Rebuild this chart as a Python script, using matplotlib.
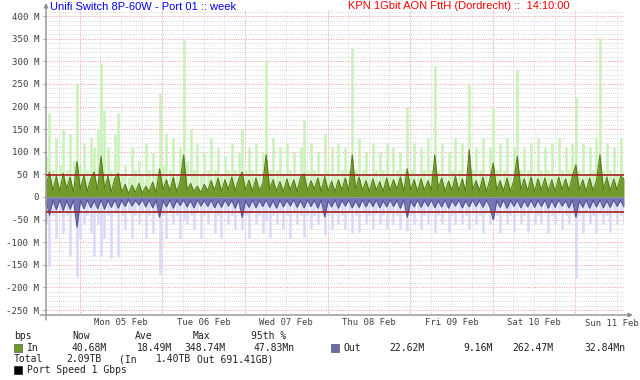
import matplotlib
matplotlib.use('Agg')
import numpy as np
import matplotlib.pyplot as plt
from matplotlib.ticker import MultipleLocator, FuncFormatter
from matplotlib.patches import Rectangle

# ---- data (Mbps, hourly samples from Sun 04 Feb 14:10) ----
in_avg = [22, 55, 14, 46, 12, 52, 18, 44, 10, 78, 16, 48,
          12, 40, 55, 15, 90, 18, 46, 11, 42, 52, 9, 28,
          7, 26, 10, 30, 8, 24, 11, 33, 9, 62, 16, 38,
          13, 44, 11, 34, 93, 15, 30, 12, 24, 9, 28, 13,
          36, 14, 42, 12, 38, 16, 44, 13, 40, 55, 15, 37,
          12, 42, 14, 30, 93, 16, 38, 13, 34, 11, 40, 15,
          38, 12, 44, 51, 14, 36, 17, 42, 12, 45, 13, 35,
          11, 38, 15, 42, 13, 93, 16, 44, 14, 36, 12, 40,
          15, 34, 12, 42, 14, 38, 17, 44, 13, 62, 15, 38,
          12, 40, 14, 36, 15, 93, 18, 42, 12, 35, 14, 46,
          13, 40, 12, 104, 15, 36, 14, 44, 11, 38, 75, 15,
          36, 13, 42, 12, 38, 90, 16, 40, 13, 44, 12, 40,
          15, 42, 13, 38, 12, 44, 16, 40, 14, 46, 71, 15,
          38, 12, 42, 14, 36, 93, 16, 44, 13, 40, 15, 46,
          40]
in_max = [90, 185, 60, 130, 70, 150, 60, 140, 80, 252, 70, 120,
          60, 130, 110, 150, 296, 192, 110, 60, 140, 185, 50, 70,
          45, 110, 60, 80, 50, 120, 60, 100, 55, 230, 70, 140,
          60, 130, 50, 110, 348, 80, 150, 60, 120, 50, 100, 60,
          130, 60, 110, 50, 90, 60, 120, 60, 100, 150, 60, 110,
          60, 120, 50, 100, 300, 60, 130, 60, 110, 50, 120, 60,
          100, 50, 110, 170, 60, 120, 60, 100, 50, 140, 60, 110,
          50, 120, 60, 110, 60, 330, 60, 130, 60, 100, 50, 120,
          60, 100, 60, 120, 50, 110, 60, 100, 60, 200, 60, 120,
          50, 110, 60, 130, 60, 290, 60, 120, 50, 100, 60, 130,
          60, 120, 50, 250, 60, 110, 60, 130, 50, 110, 200, 60,
          120, 60, 130, 50, 110, 280, 60, 110, 60, 120, 50, 130,
          60, 110, 60, 120, 50, 130, 60, 110, 60, 120, 220, 60,
          120, 50, 110, 60, 130, 351, 60, 120, 60, 110, 50, 130,
          60]
out_avg = [9, 40, 7, 28, 6, 30, 8, 27, 7, 67, 8, 26,
           6, 24, 8, 26, 6, 27, 7, 23, 6, 25, 7, 21,
           5, 20, 7, 18, 5, 22, 6, 24, 7, 45, 8, 22,
           6, 25, 7, 19, 6, 22, 8, 24, 6, 20, 7, 21,
           6, 24, 8, 23, 6, 20, 7, 25, 6, 45, 8, 23,
           6, 24, 7, 21, 6, 23, 8, 25, 6, 22, 7, 20,
           6, 23, 8, 24, 6, 21, 7, 25, 6, 44, 8, 22,
           6, 25, 7, 20, 6, 24, 8, 23, 6, 22, 7, 21,
           6, 24, 8, 22, 6, 21, 7, 25, 6, 45, 8, 22,
           6, 23, 7, 21, 6, 24, 8, 22, 6, 25, 7, 20,
           6, 24, 8, 22, 6, 21, 7, 23, 6, 22, 50, 8,
           23, 6, 25, 7, 21, 6, 24, 8, 22, 6, 23, 7,
           21, 6, 25, 7, 23, 6, 20, 8, 24, 6, 45, 8,
           23, 6, 25, 7, 22, 6, 24, 8, 23, 6, 21, 7,
           22]
out_max = [60, 155, 40, 90, 35, 80, 40, 130, 35, 177, 90, 60,
           40, 80, 130, 60, 130, 90, 40, 135, 35, 133, 40, 70,
           35, 90, 40, 60, 35, 90, 40, 80, 35, 172, 40, 90,
           35, 60, 40, 90, 50, 60, 40, 70, 35, 90, 40, 60,
           35, 80, 40, 90, 35, 60, 40, 70, 35, 70, 40, 90,
           35, 60, 40, 80, 50, 90, 40, 60, 35, 70, 40, 90,
           35, 60, 40, 88, 40, 70, 40, 60, 35, 84, 40, 70,
           35, 60, 40, 70, 35, 80, 40, 78, 35, 60, 40, 70,
           35, 60, 40, 70, 35, 60, 40, 70, 35, 75, 40, 60,
           35, 70, 40, 60, 35, 80, 40, 60, 35, 78, 40, 60,
           35, 60, 40, 70, 35, 60, 40, 80, 35, 60, 50, 40,
           80, 35, 60, 40, 78, 35, 60, 40, 78, 35, 60, 40,
           60, 35, 80, 40, 60, 35, 70, 40, 60, 35, 180, 40,
           80, 35, 60, 40, 80, 35, 60, 40, 78, 35, 60, 40,
           60]
p95_in = 47.83
p95_out = 32.84
day_labels = ['Mon 05 Feb', 'Tue 06 Feb', 'Wed 07 Feb', 'Thu 08 Feb',
              'Fri 09 Feb', 'Sat 10 Feb', 'Sun 11 Feb']

start = np.datetime64('2024-02-04T14:10')
times = start + np.arange(len(in_avg)) * np.timedelta64(60, 'm')
in_avg_a = np.array(in_avg, float)
in_max_a = np.array(in_max, float)
out_avg_a = -np.array(out_avg, float)
out_max_a = -np.array(out_max, float)

W, H = 640, 380
fig = plt.figure(figsize=(6.4, 3.8), dpi=100)
fig.patch.set_facecolor('white')
ax = fig.add_axes([46 / W, 1 - 315 / H, (624 - 46) / W, (315 - 9) / H])

ax.set_xlim(times[0], times[-1])
ax.set_ylim(-261, 415.6)

# grid
for v in np.arange(-260, 416, 10):
    if v % 50 == 0:
        ax.axhline(v, color='#ff9a9a', lw=0.7, ls=(0, (1, 1.5)), zorder=0.6)
    else:
        ax.axhline(v, color='#cfcfcf', lw=0.6, ls=(0, (1, 1.5)), zorder=0.5)
g = np.datetime64('2024-02-04T18:00')
while g < times[-1]:
    hr = int((g - np.datetime64('2024-02-04T00:00')) / np.timedelta64(1, 'h')) % 24
    if hr == 0:
        ax.axvline(g, color='#ff9a9a', lw=0.7, ls=(0, (1, 1.5)), zorder=0.6)
    else:
        ax.axvline(g, color='#cfcfcf', lw=0.6, ls=(0, (1, 1.5)), zorder=0.5)
    g = g + np.timedelta64(6, 'h')

# max values as thin light bars, averages as filled areas
ax.vlines(times, 0, in_max_a, color='#c8f3b8', lw=1.8, zorder=1)
ax.vlines(times, 0, out_max_a, color='#d8d8fa', lw=1.8, zorder=1)
ax.fill_between(times, 0, in_avg_a, color='#739a2c', lw=0, zorder=2)
ax.plot(times, in_avg_a, color='#557e16', lw=0.8, zorder=3)
ax.fill_between(times, 0, out_avg_a, color='#7676b4', lw=0, zorder=2)
ax.plot(times, out_avg_a, color='#545494', lw=0.8, zorder=3)

ax.axhline(p95_in, color='#a82020', lw=1.2, zorder=4)
ax.axhline(-p95_out, color='#a82020', lw=1.2, zorder=4)

# ticks
ax.yaxis.set_major_locator(MultipleLocator(50))
ax.yaxis.set_major_formatter(FuncFormatter(lambda v, p: '0' if v == 0 else '%d M' % v))
noon = [np.datetime64('2024-02-%02dT12:00' % d) for d in range(5, 11)]
ax.set_xticks(noon)
ax.set_xticklabels(day_labels[:-1])
ax.tick_params(axis='y', length=2, width=0.6, color='#909090', pad=3,
               labelsize=6.6, labelcolor='#404040')
ax.tick_params(axis='x', length=0, pad=2.5, labelsize=6.4, labelcolor='#404040')
for lab in ax.get_yticklabels() + ax.get_xticklabels():
    lab.set_family('DejaVu Sans Mono')
# last day label sits at the right edge of the image
fig.text(639 / W, 1 - 323 / H, day_labels[-1], family='DejaVu Sans Mono', fontsize=6.4,
         color='#404040', ha='right', va='center')
for s in ax.spines.values():
    s.set_visible(False)
ax.set_facecolor('white')

# axes with arrows
ax.annotate('', xy=(633, H - 315), xytext=(40, H - 315), xycoords='figure pixels',
            arrowprops=dict(arrowstyle='-|>', color='#909090', lw=1.0, mutation_scale=6,
                            shrinkA=0, shrinkB=0))
ax.annotate('', xy=(46, H - 3), xytext=(46, H - 320), xycoords='figure pixels',
            arrowprops=dict(arrowstyle='-|>', color='#909090', lw=1.0, mutation_scale=6,
                            shrinkA=0, shrinkB=0))

# titles
fig.text(50 / W, 1 - 7 / H, 'Unifi Switch 8P-60W - Port 01 :: week', color='#0000ff',
         fontsize=8, family='Liberation Sans', va='center', ha='left')
fig.text(348 / W, 1 - 6 / H, 'KPN 1Gbit AON FttH (Dordrecht) ::  14:10:00', color='#ff0000',
         fontsize=8, family='Liberation Sans', va='center', ha='left')

# legend
mono = dict(family='DejaVu Sans Mono', fontsize=7, color='#202020', va='center', ha='left')
def t(x, y, s):
    fig.text(x / W, 1 - y / H, s, **mono)

row = 336
t(14, row, 'bps'); t(72, row, 'Now'); t(135, row, 'Ave'); t(193, row, 'Max'); t(251, row, '95th %')
row = 348
fig.add_artist(Rectangle((14 / W, 1 - (row + 4) / H), 8 / W, 8 / H, transform=fig.transFigure,
                         facecolor='#6a9a2a', edgecolor='#404040', lw=0.4))
t(27, row, 'In'); t(72, row, '40.68M'); t(137, row, '18.49M'); t(184, row, '348.74M'); t(254, row, '47.83Mn')
fig.add_artist(Rectangle((331 / W, 1 - (row + 4) / H), 8 / W, 8 / H, transform=fig.transFigure,
                         facecolor='#6a6aa6', edgecolor='#404040', lw=0.4))
t(344, row, 'Out'); t(389, row, '22.62M'); t(463, row, '9.16M'); t(512, row, '262.47M'); t(584, row, '32.84Mn')
row = 359
t(14, row, 'Total'); t(66, row, '2.09TB'); t(119, row, '(In'); t(156, row, '1.40TB'); t(197, row, 'Out 691.41GB)')
row = 370
fig.add_artist(Rectangle((14 / W, 1 - (row + 4) / H), 8 / W, 8 / H, transform=fig.transFigure,
                         facecolor='#000000', edgecolor='#000000', lw=0.4))
t(27, row, 'Port Speed 1 Gbps')

fig.savefig('out.png', dpi=100, facecolor='white')
